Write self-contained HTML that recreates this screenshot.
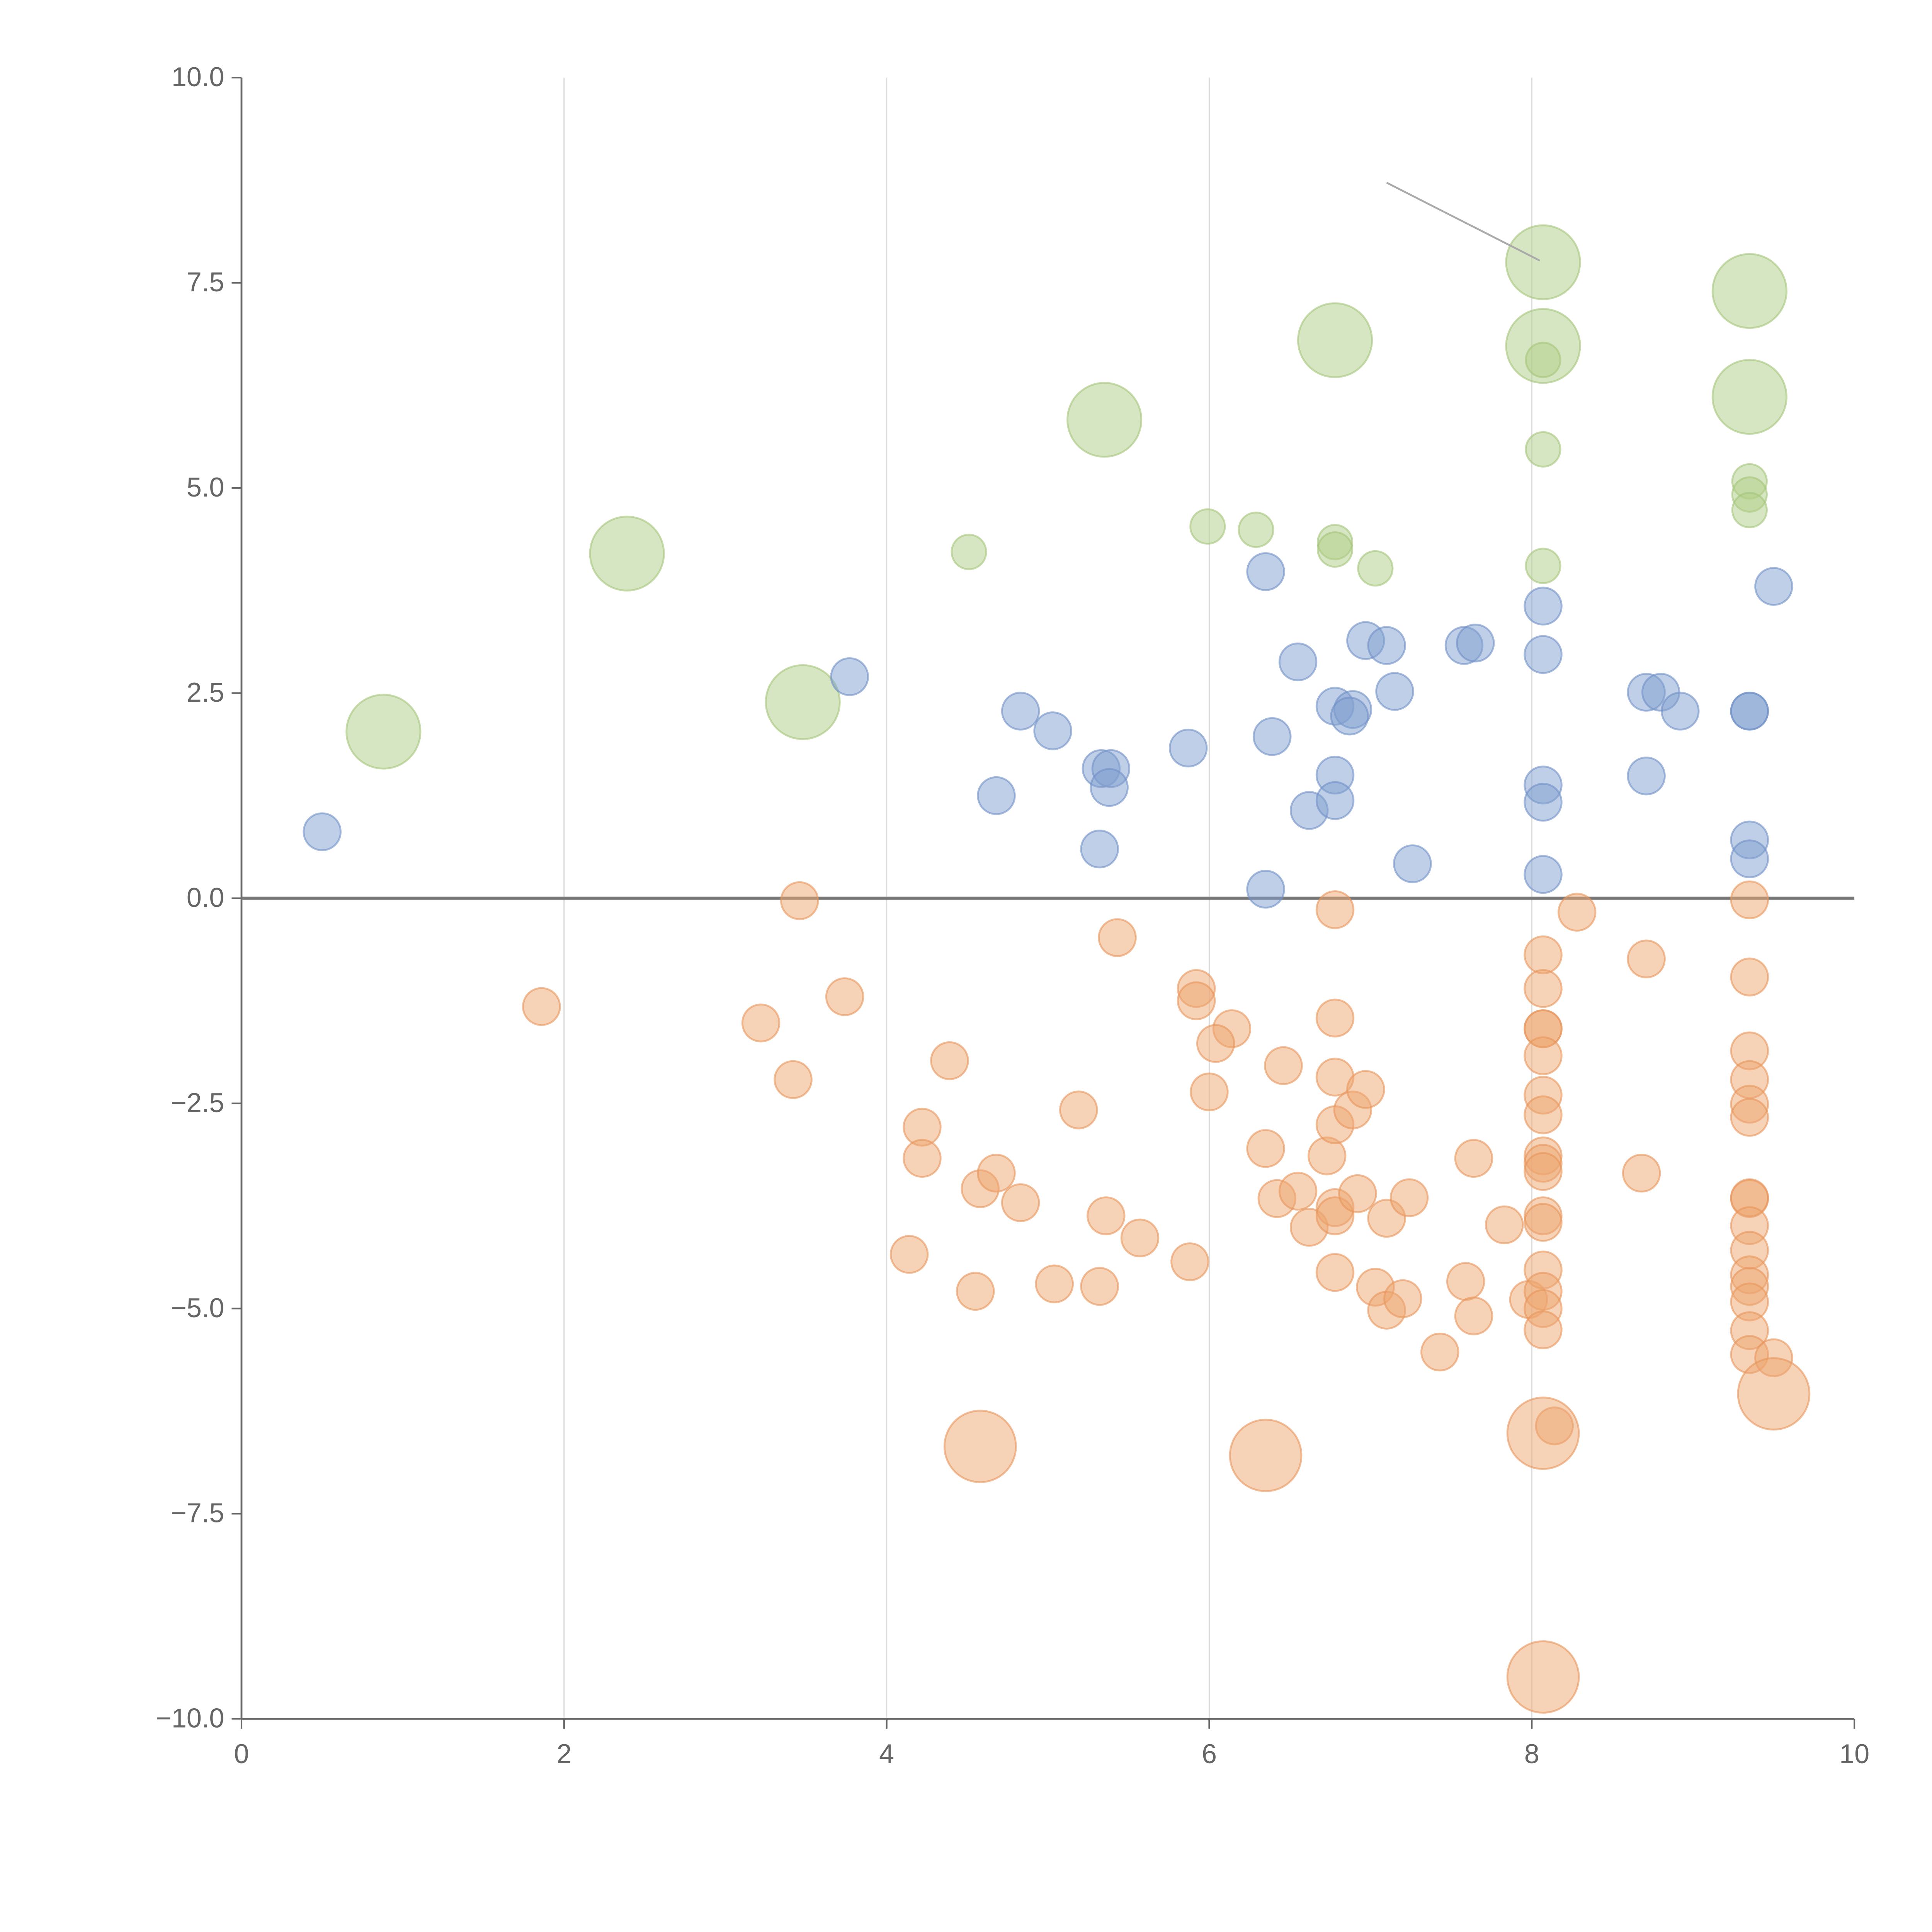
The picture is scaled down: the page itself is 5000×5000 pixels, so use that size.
<!DOCTYPE html>
<html><head><meta charset="utf-8"><style>
html,body{margin:0;padding:0;background:#fff}
svg{display:block}
text{font-family:"Liberation Sans",sans-serif;fill:#666}
</style></head><body>
<svg id="chart" width="5000" height="5000" viewBox="0 0 1568 1568" xmlns="http://www.w3.org/2000/svg">
<g id="grid"></g>
<g id="axes"></g>
<g id="marks"></g>
</svg>
<script>
const xTicks=[0,2,4,6,8,10];
const yTicks=[-10,-7.5,-5,-2.5,0,2.5,5,7.5,10];
const yTickLabels=["\u221210.0","\u22127.5","\u22125.0","\u22122.5","0.0","2.5","5.0","7.5","10.0"];
const blueX=[0.50,3.77,4.68,4.83,5.03,5.33,5.39,5.38,5.32,5.87,6.35,6.55,6.39,6.62,6.78,6.89,6.87,6.78,6.78,6.97,7.10,7.15,7.26,6.35,7.58,7.65,8.07,8.07,8.07,8.07,8.07,8.71,8.80,8.92,8.71,9.35,9.35,9.35,9.35,9.50];
const blueY=[0.81,2.70,1.25,2.28,2.04,1.58,1.58,1.35,0.60,1.83,3.98,2.88,1.97,1.07,2.34,2.30,2.22,1.50,1.19,3.14,3.08,2.52,0.42,0.11,3.08,3.11,3.56,2.97,1.38,1.17,0.29,2.51,2.51,2.28,1.49,2.28,2.28,0.71,0.48,3.80];
const orangeX=[1.86,3.22,3.42,3.46,3.74,4.39,4.22,4.22,4.14,4.55,4.58,4.68,4.83,5.04,5.19,5.32,5.36,5.57,5.43,5.88,5.92,5.92,6.14,6.04,6.00,6.46,6.35,6.42,6.55,6.62,6.73,6.78,6.78,6.78,6.78,6.78,6.78,6.78,6.89,6.97,6.92,7.10,7.24,7.03,7.10,7.20,7.43,7.59,7.64,7.64,7.83,7.98,8.07,8.07,8.07,8.07,8.07,8.07,8.07,8.07,8.07,8.07,8.07,8.07,8.07,8.07,8.07,8.07,8.14,8.28,8.71,8.68,9.35,9.35,9.35,9.35,9.35,9.35,9.35,9.35,9.35,9.35,9.35,9.35,9.35,9.35,9.35,9.50];
const orangeY=[-1.32,-1.52,-2.21,-0.03,-1.20,-1.98,-2.79,-3.17,-4.34,-4.79,-3.54,-3.35,-3.71,-4.70,-2.58,-4.73,-3.87,-4.14,-0.48,-4.43,-1.10,-1.25,-1.59,-1.77,-2.36,-2.04,-3.05,-3.66,-3.57,-4.01,-3.14,-1.46,-2.18,-2.76,-0.14,-3.77,-3.87,-4.56,-2.58,-2.33,-3.60,-3.90,-3.65,-4.74,-5.02,-4.88,-5.53,-4.67,-5.09,-3.17,-3.98,-4.89,-0.69,-1.10,-1.59,-1.59,-1.92,-2.40,-2.64,-3.14,-3.23,-3.33,-3.87,-3.95,-4.53,-4.79,-5.00,-5.26,-6.43,-0.17,-0.74,-3.35,-0.02,-0.96,-1.86,-2.21,-2.51,-2.67,-3.66,-3.65,-3.99,-4.29,-4.59,-4.73,-4.92,-5.27,-5.56,-5.60];
const orangeBigX=[4.58,6.35,8.07,9.50,8.07];
const orangeBigY=[-6.68,-6.79,-6.52,-6.04,-9.49];
const greenX=[4.51,5.99,6.29,6.78,6.78,7.03,8.07,8.07,8.07,9.35,9.35,9.35];
const greenY=[4.22,4.53,4.49,4.34,4.25,4.02,6.56,5.47,4.05,5.08,4.92,4.73];
const greenBigX=[0.88,2.39,3.48,5.35,6.78,8.07,8.07,9.35,9.35];
const greenBigY=[2.03,4.20,2.39,5.83,6.80,7.75,6.73,7.40,6.11];

const X0=196,X1=1505,Y0=1395,Y1=63;
const sx=v=>X0+(v-0)/(10-0)*(X1-X0);
const sy=v=>Y0-(v+10)/20*(Y0-Y1);
const NS="http://www.w3.org/2000/svg";
function mk(tag,attrs,parent){const e=document.createElementNS(NS,tag);for(const k in attrs)e.setAttribute(k,attrs[k]);parent.appendChild(e);return e;}
const grid=document.getElementById('grid'),axes=document.getElementById('axes'),marks=document.getElementById('marks');
xTicks.forEach(t=>{
  if(t>0&&t<10){const g=mk('line',{x1:sx(t),x2:sx(t),y1:Y1,y2:Y0,stroke:'#ddd','stroke-width':1},grid);
  
  }
  const tk=mk('line',{x1:sx(t),x2:sx(t),y1:Y0,y2:Y0+8,stroke:'#666','stroke-width':1.3},axes);
  
  
  const tx=mk('text',{x:sx(t),y:Y0+36,'text-anchor':'middle','font-size':22},axes);tx.textContent=t;
  
  
});
yTicks.forEach((t,i)=>{
  const tk=mk('line',{x1:X0-8,x2:X0,y1:sy(t),y2:sy(t),stroke:'#666','stroke-width':1.3},axes);
  
  
  const tx=mk('text',{x:X0-14,y:sy(t)+7,'text-anchor':'end','font-size':22},axes);tx.textContent=yTickLabels[i];
  
  
});
const xa=mk('line',{x1:X0,x2:X1,y1:Y0,y2:Y0,stroke:'#666','stroke-width':1.5},axes);


const ya=mk('line',{x1:X0,x2:X0,y1:Y1,y2:Y0,stroke:'#666','stroke-width':1.5},axes);


const zl=mk('line',{x1:X0,x2:X1,y1:sy(0),y2:sy(0),stroke:'#777','stroke-width':2.5},axes);


function series(xs,ys,r,fill,stroke,name){
  xs.forEach((x,i)=>{const c=mk('circle',{cx:sx(x),cy:sy(ys[i]),r:r,fill:fill,'fill-opacity':0.5,stroke:stroke,'stroke-opacity':0.6,'stroke-width':1.5},marks);
  
  });
}
series(greenBigX,greenBigY,30,'#b0cd86','#a3c57a','green-large-bubble');
series(greenX,greenY,14,'#b0cd86','#a3c57a','green-bubble');
series(blueX,blueY,15,'#7f9fd0','#6f90c6','blue-bubble');
series(orangeX,orangeY,15,'#eda56f','#e8955a','orange-bubble');
series(orangeBigX,orangeBigY,29,'#eda56f','#e8955a','orange-large-bubble');
const an=mk('line',{x1:sx(7.10),y1:sy(8.72),x2:sx(8.05),y2:sy(7.77),stroke:'#aaa','stroke-width':1.5},marks);


</script>
</body></html>
